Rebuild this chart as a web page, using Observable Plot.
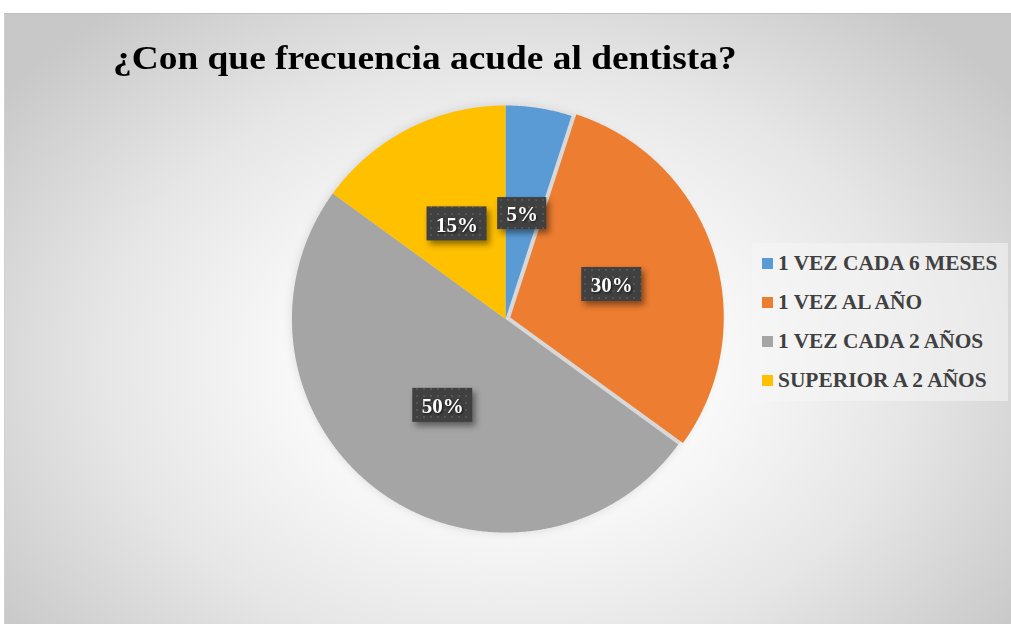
<!DOCTYPE html>
<html>
<head>
<meta charset="utf-8">
<script src="https://cdn.jsdelivr.net/npm/d3@7"></script>
<script src="https://cdn.jsdelivr.net/npm/@observablehq/plot@0.6"></script>
<style>
  html, body { margin: 0; padding: 0; background: #ffffff; }
  #wrap { position: relative; width: 1011px; height: 624px; overflow: hidden; background: #fff; }
  #frame { position: absolute; left: 4px; top: 13px; width: 1007px; height: 611px;
    border-top: 1px solid #c0c0c0; border-left: 1px solid #d0d0d0; box-sizing: border-box;
    background: radial-gradient(ellipse 62% 75% at 50% 57%, #ffffff 0%, #fbfbfb 30%, #e6e6e6 65%, #c8c8c8 100%); }
  #plot { position: absolute; left: 0; top: 0; }
  #title { position: absolute; left: 113px; top: 39px; font-family: "Liberation Serif", "Times New Roman", serif;
    font-weight: bold; font-size: 34px; color: #000; white-space: nowrap; transform-origin: left top; transform: scaleX(1.1); }
  #legend { position: absolute; left: 752px; top: 243px; width: 256px; height: 158px; background: rgba(245,245,245,0.55); }
  .row { position: absolute; left: 10px; height: 24px; display: flex; align-items: center;
    font-family: "Liberation Serif", "Times New Roman", serif; font-weight: bold; font-size: 21.4px; color: #404040; white-space: nowrap; }
  .sw { width: 11px; height: 11px; margin-right: 5px; }
</style>
</head>
<body>
<div id="wrap">
  <div id="frame"></div>
  <div id="plot"></div>
  <div id="title"></div>
  <div id="legend"></div>
</div>
<script>
const title = "¿Con que frecuencia acude al dentista?";
const categories = ["1 VEZ CADA 6 MESES", "1 VEZ AL AÑO", "1 VEZ CADA 2 AÑOS", "SUPERIOR A 2 AÑOS"];
const values = [5, 30, 50, 15];
const labels = ["5%", "30%", "50%", "15%"];
const colors = ["#5B9BD5", "#ED7D31", "#A5A5A5", "#FFC000"];
const explode = [0, 5, 0, 0];

const W = 1011, H = 624;
const cx = 505, cy = 318.5, R = 213.5;

const arcs = d3.pie().sort(null).value(d => d)(values);

function slicePoints(a, i) {
  const mid = (a.startAngle + a.endAngle) / 2;
  const off = explode[i] / R;
  const ox = off * Math.sin(mid), oy = off * Math.cos(mid);
  const pts = [{x: ox, y: oy}];
  const n = Math.ceil((a.endAngle - a.startAngle) / 0.005);
  for (let k = 0; k <= n; k++) {
    const t = a.startAngle + (a.endAngle - a.startAngle) * k / n;
    pts.push({x: ox + Math.sin(t), y: oy + Math.cos(t)});
  }
  pts.push({x: ox, y: oy});
  return pts;
}

const circle = d3.range(0, 361).map(k => ({x: Math.sin(k * Math.PI / 180), y: Math.cos(k * Math.PI / 180)}));

const lbl = arcs.map((a, i) => {
  const mid = (a.startAngle + a.endAngle) / 2;
  const r = 0.5 + explode[i] / R;
  return {text: labels[i], x: r * Math.sin(mid), y: r * Math.cos(mid), w: 27 + 11 * labels[i].length, h: labels[i].length > 2 ? 34 : 32};
});

const chart = Plot.plot({
  width: W, height: H, margin: 0,
  style: {background: "transparent", overflow: "visible"},
  x: {domain: [-1, 1], range: [cx - R, cx + R], axis: null},
  y: {domain: [-1, 1], range: [cy + R, cy - R], axis: null},
  marks: [
    Plot.line(circle, {x: "x", y: "y", fill: "#d8d8d8", stroke: "none", imageFilter: "drop-shadow(0px 0px 5px rgba(0,0,0,0.12))"}),
    ...arcs.map((a, i) => Plot.line(slicePoints(a, i), {x: "x", y: "y", fill: colors[i], stroke: "none"})),
    Plot.rect(lbl, {
      x1: d => d.x - d.w / 2 / R, x2: d => d.x + d.w / 2 / R,
      y1: d => d.y - d.h / 2 / R, y2: d => d.y + d.h / 2 / R,
      fill: "url(#dots)", imageFilter: "drop-shadow(3px 4px 3px rgba(0,0,0,0.45))"
    }),
    Plot.text(lbl, {x: "x", y: "y", text: "text", fill: "white", fontSize: 21, fontWeight: "bold",
      fontFamily: "Liberation Serif, Times New Roman, serif", dy: 1,
      imageFilter: "drop-shadow(1px 1px 1px rgba(0,0,0,0.7))"})
  ]
});

chart.insertAdjacentHTML("afterbegin",
  '<defs><pattern id="dots" width="7" height="7" patternUnits="userSpaceOnUse">' +
  '<rect width="7" height="7" fill="#404040"></rect><rect x="3" y="3" width="2" height="2" fill="#555555"></rect></pattern></defs>');
document.getElementById("plot").appendChild(chart);

document.getElementById("title").textContent = title;

const legend = document.getElementById("legend");
const rowY = [263, 302, 341, 380];
categories.forEach((c, i) => {
  const row = document.createElement("div");
  row.className = "row";
  row.style.top = (rowY[i] - 243 - 12) + "px";
  const sw = document.createElement("span");
  sw.className = "sw";
  sw.style.background = colors[i];
  const tx = document.createElement("span");
  tx.textContent = c;
  row.appendChild(sw); row.appendChild(tx);
  legend.appendChild(row);
});
</script>
</body>
</html>
